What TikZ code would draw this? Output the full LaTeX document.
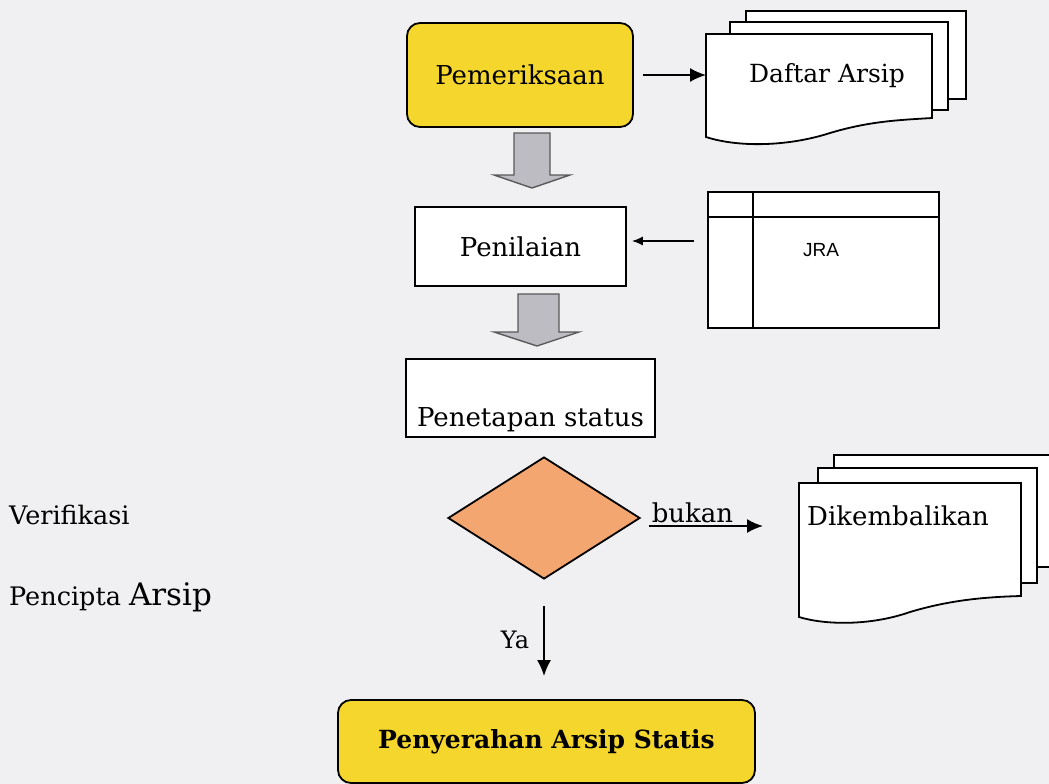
\documentclass[tikz,border=0pt]{standalone}
\usepackage{fontspec}
\setmainfont{DejaVu Serif}
\setsansfont{Liberation Sans}
\usetikzlibrary{shapes.geometric, positioning, calc, arrows.meta}
\definecolor{kuning}{RGB}{245,214,45}
\definecolor{oranye}{RGB}{244,166,112}
\definecolor{latar}{RGB}{240,240,243}
\definecolor{abu}{RGB}{188,188,194}

\begin{document}
\begin{tikzpicture}[x=1pt, y=-1pt,
        teks/.style={font=\fontsize{26}{31}\selectfont},
        kotak/.style={teks, draw, line width=1.8, fill=white},
        kotakkuning/.style={kotak, fill=kuning, rounded corners=13},
        dok/.style={draw, line width=1.8, fill=white},
        blok/.style={draw=gray!70!black, line width=1.4, fill=abu},
        panah/.style={line width=1.8, -{Latex[length=16pt, width=14pt]}}]
        %disegno sfondo
        \fill[latar] (0,0) rectangle (1049,784);
        \useasboundingbox (0,0) rectangle (1049,784);
        %disegno Pemeriksaan
        \node[kotakkuning, minimum width=226, minimum height=104] (periksa) at (520,75) {Pemeriksaan};
        %disegno Daftar Arsip
        \draw[dok] (746,11) rectangle (966,99);
        \draw[dok] (730,22) rectangle (948,110);
        \draw[dok] (706,34) -- (932,34) -- (932,118) .. controls (900,120) and (870,121) .. (830,133) .. controls (790,146) and (740,148) .. (706,137) -- cycle;
        \node[teks, font=\fontsize{25}{30}\selectfont] (daftar) at (827,76) {Daftar Arsip};
        \coordinate (daftarkiri) at (706,76);
        \draw[panah, shorten <=9] (periksa.east) -- (periksa.east -| daftarkiri);
        %disegno panah blok
        \draw[blok] (514,133) -- (550,133) -- (550,175) -- (570,175) -- (532,188) -- (494,175) -- (514,175) -- cycle;
        %disegno Penilaian
        \node[kotak, minimum width=211, minimum height=79] (nilai) at (520.5,246.5) {Penilaian};
        %disegno JRA
        \node[dok, minimum width=231, minimum height=136, inner sep=0] (jra) at (823.5,260) {};
        \draw[line width=1.8] ([xshift=46]jra.north west) -- ([xshift=46]jra.south west);
        \draw[line width=1.8] ([yshift=-26]jra.north west) -- ([yshift=-26]jra.north east);
        \node[font=\sffamily\fontsize{19}{22}\selectfont] (jralbl) at (821,250) {JRA};
        \path ([yshift=5.5]nilai.east) coordinate (nilaikanan);
        \draw[line width=1.4, -{Latex[length=11pt, width=9pt]}, shorten <=13, shorten >=5] (jra.west |- nilaikanan) -- (nilaikanan);
        %disegno panah blok
        \draw[blok] (518,294) -- (559,294) -- (559,332) -- (579,332) -- (537,346) -- (494,332) -- (518,332) -- cycle;
        %disegno Penetapan status
        \node[kotak, minimum width=249, text height=61, text depth=5, inner ysep=6] (tetap) at (530.5,398) {Penetapan status};
        %disegno verifikasi
        \node[draw, line width=1.8, fill=oranye, diamond, minimum width=192, minimum height=122, inner sep=0] (cek) at (544,518) {};
        %disegno Dikembalikan
        \draw[dok] (834,455) rectangle (1060,567);
        \draw[dok] (818,468) rectangle (1037,583);
        \draw[dok] (799,483) -- (1021,483) -- (1021,596) .. controls (985,597) and (950,600) .. (910,612) .. controls (870,626) and (825,625) .. (799,617) -- cycle;
        \node[teks, anchor=west, inner sep=0] (kembali) at (807,516) {Dikembalikan};
        \coordinate (kembalikiri) at (799,527);
        \path ([shift={(8,8)}]cek.east) coordinate (bukanawal);
        \draw[panah, shorten >=36] (bukanawal) -- node[teks, pos=0, anchor=south west, inner sep=2] (bukan) {bukan} (bukanawal -| kembalikiri);
        %disegno Penyerahan
        \node[kotakkuning, font=\bfseries\fontsize{25}{30}\selectfont, minimum width=417, minimum height=83] (serah) at (546.5,741.5) {Penyerahan Arsip Statis};
        \draw[panah, shorten <=26, shorten >=23] (cek.south) -- node[teks, left, inner sep=14, font=\fontsize{24}{28}\selectfont] (ya) {Ya} (cek.south |- serah.north);
        %disegno testo a sinistra
        \node[anchor=west, inner sep=0, font=\fontsize{25.5}{30}\selectfont] (verif) at (9,515) {Verifikasi};
        \node[anchor=west, inner sep=0, font=\fontsize{25.5}{30}\selectfont] (cipta) at (9,597) {Pencipta {\fontsize{31}{35}\selectfont Arsip}};
    \end{tikzpicture}
\end{document}
